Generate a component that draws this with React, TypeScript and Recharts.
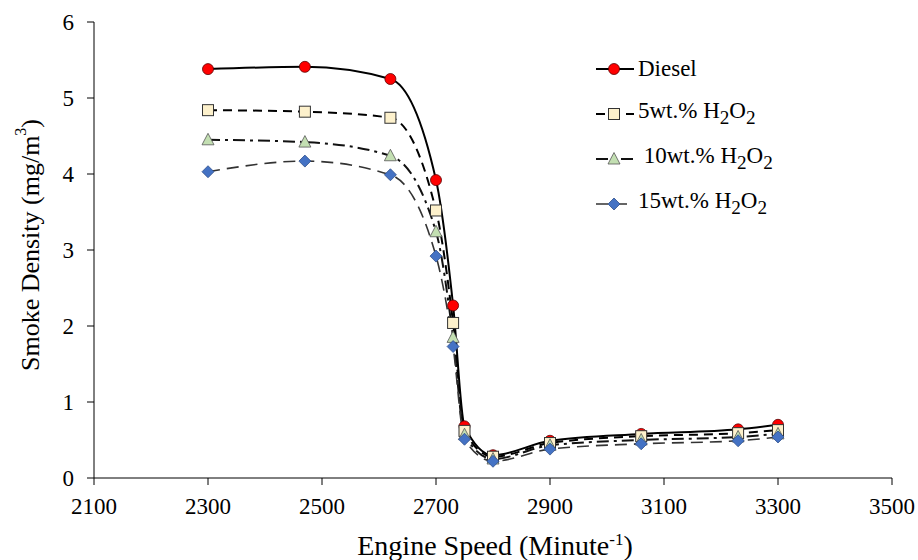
import { Line, LineChart, XAxis, YAxis } from "recharts";

const speed = [2300, 2470, 2620, 2700, 2730, 2750, 2800, 2900, 3060, 3230, 3300];
const diesel = [5.38, 5.41, 5.25, 3.92, 2.27, 0.68, 0.3, 0.49, 0.58, 0.64, 0.7];
const h2o2_5 = [4.84, 4.82, 4.74, 3.52, 2.04, 0.62, 0.28, 0.46, 0.55, 0.59, 0.63];
const h2o2_10 = [4.45, 4.42, 4.24, 3.24, 1.85, 0.57, 0.25, 0.43, 0.5, 0.54, 0.58];
const h2o2_15 = [4.03, 4.17, 3.99, 2.92, 1.73, 0.51, 0.22, 0.38, 0.45, 0.49, 0.54];

const xTicks = [2100, 2300, 2500, 2700, 2900, 3100, 3300, 3500];
const yTicks = [0, 1, 2, 3, 4, 5, 6];

const data = speed.map((s, i) => ({
  speed: s,
  diesel: diesel[i],
  h5: h2o2_5[i],
  h10: h2o2_10[i],
  h15: h2o2_15[i],
}));

// serif, like the Times text in the source figure
const FONT = "'Times New Roman', 'Liberation Serif', 'DejaVu Serif', serif";

type Kind = "circle" | "square" | "triangle" | "diamond";

function Marker({ kind, cx, cy }: { kind: Kind; cx: number; cy: number }) {
  if (kind === "circle")
    return <circle cx={cx} cy={cy} r={5.5} fill="#ff0000" stroke="#5a0000" strokeWidth={0.8} />;
  if (kind === "square")
    return <rect x={cx - 5.5} y={cy - 5.5} width={11} height={11} fill="#fdf1cc" stroke="#333" strokeWidth={1} />;
  if (kind === "triangle")
    return (
      <polygon
        points={`${cx},${cy - 6.5} ${cx + 6},${cy + 5} ${cx - 6},${cy + 5}`}
        fill="#c3dfb2"
        stroke="#555"
        strokeWidth={0.8}
      />
    );
  return (
    <polygon
      points={`${cx},${cy - 6} ${cx + 6},${cy} ${cx},${cy + 6} ${cx - 6},${cy}`}
      fill="#4472c4"
      stroke="#2f4f8a"
      strokeWidth={0.8}
    />
  );
}

const seriesDefs = [
  { key: "diesel", kind: "circle" as Kind, dash: undefined, stroke: "#000", width: 2, label: <>Diesel</> },
  { key: "h5", kind: "square" as Kind, dash: "9 6", stroke: "#000", width: 2, label: <>5wt.% H<sub>2</sub>O<sub>2</sub></> },
  { key: "h10", kind: "triangle" as Kind, dash: "12 5 3 5", stroke: "#111", width: 2, label: <>&nbsp;10wt.% H<sub>2</sub>O<sub>2</sub></> },
  { key: "h15", kind: "diamond" as Kind, dash: "12 7", stroke: "#333", width: 1.6, label: <>15wt.% H<sub>2</sub>O<sub>2</sub></> },
];

function makeDot(kind: Kind) {
  return (props: any) => {
    const { cx, cy, index } = props;
    return <Marker key={`${kind}-${index}`} kind={kind} cx={cx} cy={cy} />;
  };
}

function LegendBox() {
  return (
    <div style={{ position: "absolute", left: 592, top: 46, fontFamily: FONT, fontSize: 23, color: "#000" }}>
      {seriesDefs.map((s) => (
        <div key={s.key} style={{ display: "flex", alignItems: "center", height: 45 }}>
          <svg width={44} height={20} style={{ overflow: "visible" }}>
            <line x1={4} y1={10} x2={42} y2={10} stroke={s.stroke} strokeWidth={s.width} strokeDasharray={s.dash} />
            <Marker kind={s.kind} cx={22} cy={10} />
          </svg>
          <span style={{ marginLeft: 2, whiteSpace: "nowrap" }}>{s.label}</span>
        </div>
      ))}
    </div>
  );
}

function YTitle() {
  return (
    <text
      x={30}
      y={245}
      transform="rotate(-90 30 245)"
      textAnchor="middle"
      dominantBaseline="central"
      fontFamily={FONT}
      fontSize={26}
      fill="#000"
    >
      Smoke Density (mg/m<tspan dy={-10} fontSize={16}>3</tspan>
      <tspan dy={10}>)</tspan>
    </text>
  );
}

function XTitle() {
  return (
    <text x={495} y={555} textAnchor="middle" fontFamily={FONT} fontSize={28} fill="#000">
      Engine Speed (Minute<tspan dy={-10} fontSize={17}>-1</tspan>
      <tspan dy={10}>)</tspan>
    </text>
  );
}

export default function App() {
  return (
    <div style={{ position: "absolute", left: 0, top: 0, width: 918, height: 560, background: "#fff" }}>
      <LineChart width={918} height={560} data={data} margin={{ top: 22, right: 26, bottom: 52, left: 0 }}>
        <XAxis
          dataKey="speed"
          type="number"
          domain={[2100, 3500]}
          ticks={xTicks}
          interval={0}
          height={30}
          stroke="#000"
          tickSize={7}
          tickMargin={13}
          tick={{ fill: "#000", fontSize: 23, fontFamily: FONT }}
          allowDataOverflow
        />
        <YAxis
          type="number"
          domain={[0, 6]}
          ticks={yTicks}
          interval={0}
          width={94}
          stroke="#000"
          tickSize={7}
          tickMargin={13}
          tick={{ fill: "#000", fontSize: 23, fontFamily: FONT }}
        />
        {seriesDefs.map((s) => (
          <Line
            key={s.key}
            dataKey={s.key}
            type="monotone"
            stroke={s.stroke}
            strokeWidth={s.width}
            strokeDasharray={s.dash}
            dot={makeDot(s.kind)}
            activeDot={false}
            isAnimationActive={false}
          />
        ))}
        <YTitle />
        <XTitle />
      </LineChart>
      <LegendBox />
    </div>
  );
}
